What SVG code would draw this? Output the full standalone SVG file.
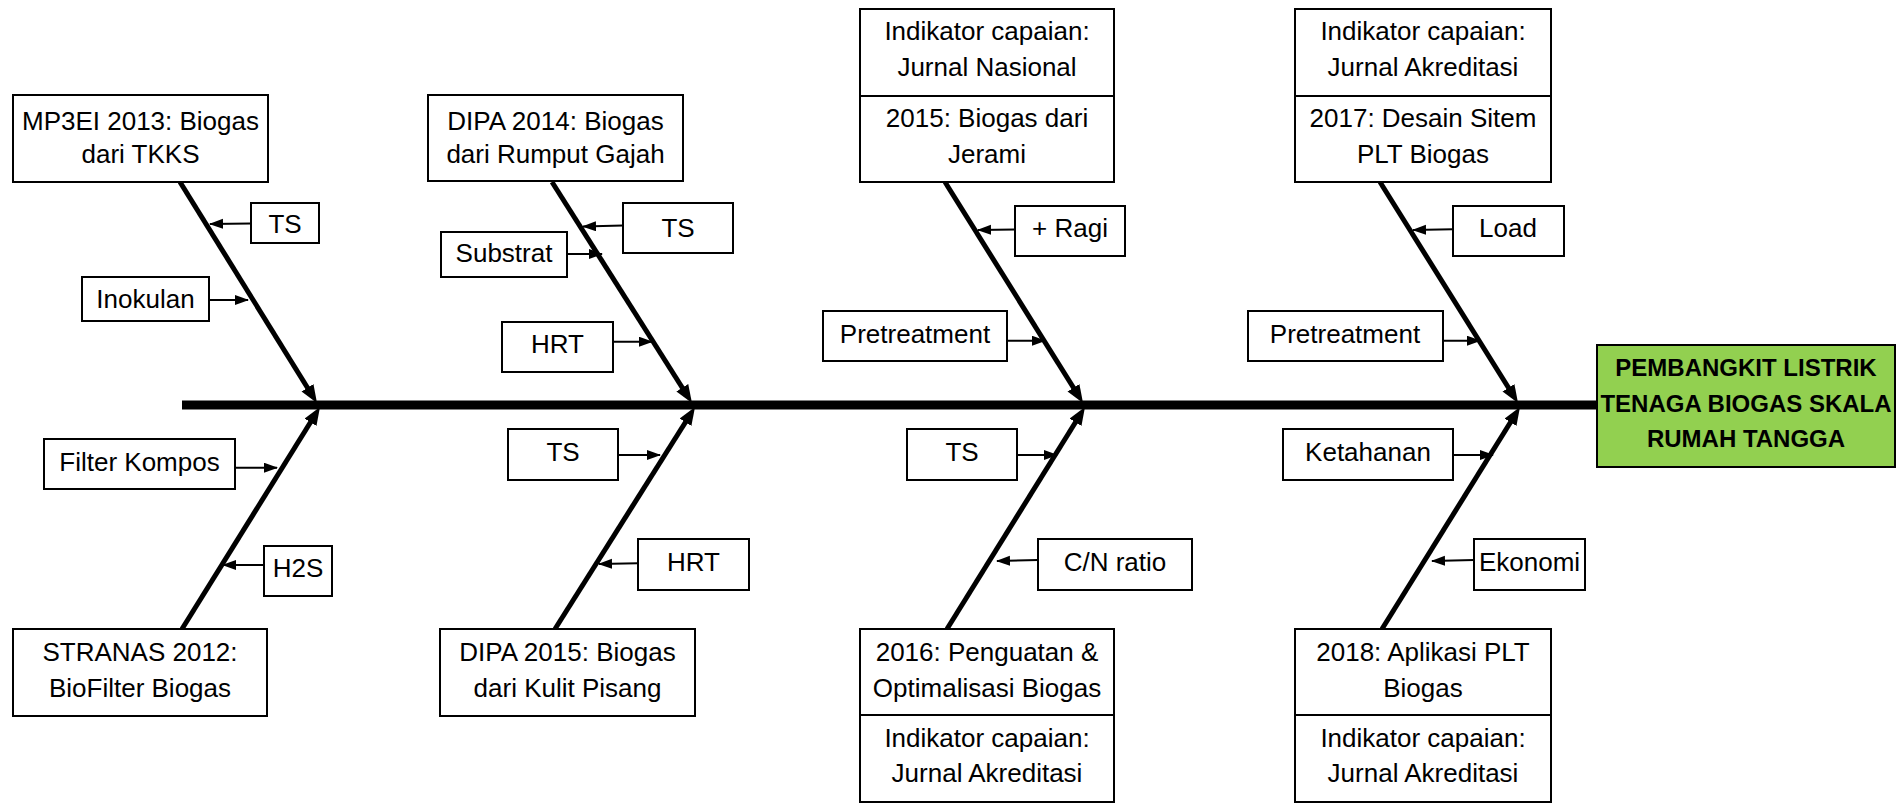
<svg xmlns="http://www.w3.org/2000/svg" width="1898" height="803" viewBox="0 0 1898 803">
<style>
.box{fill:#fff;stroke:#000;stroke-width:2}
.t{font-family:"Liberation Sans",Arial,sans-serif;font-size:26px;fill:#000;text-anchor:middle}
.tb{font-family:"Liberation Sans",Arial,sans-serif;font-size:24px;font-weight:bold;fill:#000;text-anchor:middle}
.bone{stroke:#000;stroke-width:5;fill:none;marker-end:url(#bigArrow)}
.sm{stroke:#000;stroke-width:2;fill:none;marker-end:url(#smArrow)}
</style>
<defs>
<marker id="bigArrow" markerUnits="userSpaceOnUse" markerWidth="20" markerHeight="16" refX="8" refY="7" orient="auto">
<path d="M0,0 L18,7 L0,14 z" fill="#000"/>
</marker>
<marker id="smArrow" markerUnits="userSpaceOnUse" markerWidth="16" markerHeight="12" refX="13" refY="5" orient="auto">
<path d="M0,0 L14,5 L0,10 z" fill="#000"/>
</marker>
</defs>
<rect width="1898" height="803" fill="#fff"/>

<g id="connectors">
<line x1="182" y1="405" x2="1597" y2="405" stroke="#000" stroke-width="9"/>
<line class="bone" x1="180" y1="182" x2="311.7" y2="394.5"/>
<line class="bone" x1="552" y1="182" x2="686.6" y2="394.5"/>
<line class="bone" x1="945" y1="182" x2="1077.7" y2="394.5"/>
<line class="bone" x1="1380" y1="182" x2="1512.7" y2="394.5"/>
<line class="bone" x1="182" y1="629" x2="314.7" y2="415.5"/>
<line class="bone" x1="555" y1="629" x2="689.7" y2="415.5"/>
<line class="bone" x1="947" y1="629" x2="1079.7" y2="415.5"/>
<line class="bone" x1="1382" y1="629" x2="1514.7" y2="415.5"/>
<line class="sm" x1="251" y1="223.5" x2="210" y2="224"/>
<line class="sm" x1="209" y1="300" x2="248" y2="300"/>
<line class="sm" x1="623" y1="225.5" x2="583" y2="226.5"/>
<line class="sm" x1="567" y1="254" x2="602" y2="254"/>
<line class="sm" x1="613" y1="341.7" x2="652" y2="341.7"/>
<line class="sm" x1="1015" y1="229.5" x2="978" y2="230"/>
<line class="sm" x1="1007" y1="340.7" x2="1045" y2="340.7"/>
<line class="sm" x1="1453" y1="229.3" x2="1413" y2="230"/>
<line class="sm" x1="1443" y1="340.7" x2="1480" y2="340.7"/>
<line class="sm" x1="235" y1="467.7" x2="277" y2="467.7"/>
<line class="sm" x1="264" y1="565" x2="223" y2="565"/>
<line class="sm" x1="618" y1="455" x2="660" y2="455"/>
<line class="sm" x1="638" y1="563.3" x2="599" y2="564"/>
<line class="sm" x1="1017" y1="455" x2="1057" y2="455"/>
<line class="sm" x1="1038" y1="560" x2="997" y2="561"/>
<line class="sm" x1="1453" y1="455" x2="1493" y2="455"/>
<line class="sm" x1="1474" y1="560" x2="1432" y2="561"/>
</g>

<g id="mp3ei">
<rect class="box" x="13" y="95" width="255" height="87"/>
<text class="t" x="140.5" y="130">MP3EI 2013: Biogas</text>
<text class="t" x="140.5" y="163">dari TKKS</text>
</g>
<g id="dipa2014">
<rect class="box" x="428" y="95" width="255" height="86"/>
<text class="t" x="555.5" y="130">DIPA 2014: Biogas</text>
<text class="t" x="555.5" y="163">dari Rumput Gajah</text>
</g>
<g id="y2015">
<rect class="box" x="860" y="9" width="254" height="173"/>
<line x1="860" y1="96" x2="1114" y2="96" stroke="#000" stroke-width="2"/>
<text class="t" x="987" y="40">Indikator capaian:</text>
<text class="t" x="987" y="76">Jurnal Nasional</text>
<text class="t" x="987" y="127">2015: Biogas dari</text>
<text class="t" x="987" y="163">Jerami</text>
</g>
<g id="y2017">
<rect class="box" x="1295" y="9" width="256" height="173"/>
<line x1="1295" y1="96" x2="1551" y2="96" stroke="#000" stroke-width="2"/>
<text class="t" x="1423" y="40">Indikator capaian:</text>
<text class="t" x="1423" y="76">Jurnal Akreditasi</text>
<text class="t" x="1423" y="127">2017: Desain Sitem</text>
<text class="t" x="1423" y="163">PLT Biogas</text>
</g>
<g id="stranas">
<rect class="box" x="13" y="629" width="254" height="87"/>
<text class="t" x="140" y="661">STRANAS 2012:</text>
<text class="t" x="140" y="697">BioFilter Biogas</text>
</g>
<g id="dipa2015">
<rect class="box" x="440" y="629" width="255" height="87"/>
<text class="t" x="567.5" y="661">DIPA 2015: Biogas</text>
<text class="t" x="567.5" y="697">dari Kulit Pisang</text>
</g>
<g id="y2016">
<rect class="box" x="860" y="629" width="254" height="173"/>
<line x1="860" y1="715" x2="1114" y2="715" stroke="#000" stroke-width="2"/>
<text class="t" x="987" y="661">2016: Penguatan &amp;</text>
<text class="t" x="987" y="697">Optimalisasi Biogas</text>
<text class="t" x="987" y="747">Indikator capaian:</text>
<text class="t" x="987" y="782">Jurnal Akreditasi</text>
</g>
<g id="y2018">
<rect class="box" x="1295" y="629" width="256" height="173"/>
<line x1="1295" y1="715" x2="1551" y2="715" stroke="#000" stroke-width="2"/>
<text class="t" x="1423" y="661">2018: Aplikasi PLT</text>
<text class="t" x="1423" y="697">Biogas</text>
<text class="t" x="1423" y="747">Indikator capaian:</text>
<text class="t" x="1423" y="782">Jurnal Akreditasi</text>
</g>

<g id="effect">
<rect x="1597" y="345" width="298" height="122" fill="#92D050" stroke="#000" stroke-width="2"/>
<text class="tb" x="1746" y="376">PEMBANGKIT LISTRIK</text>
<text class="tb" x="1746" y="412">TENAGA BIOGAS SKALA</text>
<text class="tb" x="1746" y="447">RUMAH TANGGA</text>
</g>

<g id="ts1"><rect class="box" x="251" y="203" width="68" height="40"/><text class="t" x="285" y="233">TS</text></g>
<g id="inokulan"><rect class="box" x="82" y="277" width="127" height="44"/><text class="t" x="145.5" y="308">Inokulan</text></g>
<g id="ts2"><rect class="box" x="623" y="203" width="110" height="50"/><text class="t" x="678" y="237">TS</text></g>
<g id="substrat"><rect class="box" x="441" y="232" width="126" height="45"/><text class="t" x="504" y="262">Substrat</text></g>
<g id="hrt1"><rect class="box" x="502" y="322" width="111" height="50"/><text class="t" x="557.5" y="353">HRT</text></g>
<g id="ragi"><rect class="box" x="1015" y="206" width="110" height="50"/><text class="t" x="1070" y="237">+ Ragi</text></g>
<g id="pretreat1"><rect class="box" x="823" y="311" width="184" height="50"/><text class="t" x="915" y="343">Pretreatment</text></g>
<g id="load"><rect class="box" x="1453" y="206" width="111" height="50"/><text class="t" x="1508" y="237">Load</text></g>
<g id="pretreat2"><rect class="box" x="1248" y="311" width="195" height="50"/><text class="t" x="1345" y="343">Pretreatment</text></g>
<g id="filter"><rect class="box" x="44" y="439" width="191" height="50"/><text class="t" x="139.5" y="471">Filter Kompos</text></g>
<g id="h2s"><rect class="box" x="264" y="546" width="68" height="50"/><text class="t" x="298" y="577">H2S</text></g>
<g id="ts3"><rect class="box" x="508" y="429" width="110" height="51"/><text class="t" x="563" y="461">TS</text></g>
<g id="hrt2"><rect class="box" x="638" y="539" width="111" height="51"/><text class="t" x="693.5" y="571">HRT</text></g>
<g id="ts4"><rect class="box" x="907" y="429" width="110" height="51"/><text class="t" x="962" y="461">TS</text></g>
<g id="cn"><rect class="box" x="1038" y="539" width="154" height="51"/><text class="t" x="1115" y="571">C/N ratio</text></g>
<g id="ketahanan"><rect class="box" x="1283" y="429" width="170" height="51"/><text class="t" x="1368" y="461">Ketahanan</text></g>
<g id="ekonomi"><rect class="box" x="1474" y="539" width="111" height="51"/><text class="t" x="1529.5" y="571">Ekonomi</text></g>
</svg>
